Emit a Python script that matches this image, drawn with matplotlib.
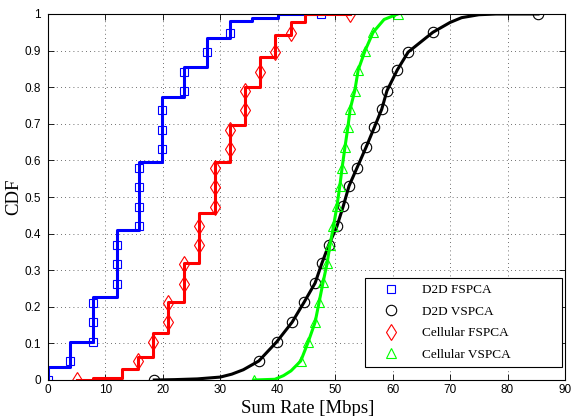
import matplotlib
matplotlib.use("Agg")
import matplotlib.pyplot as plt
from matplotlib.lines import Line2D

# D2D FSPCA (step CDF)
d2d_fs_x = [0, 0, 3.8, 7.8, 12.0, 15.8, 19.9, 23.7, 27.7, 31.7, 35.5, 40.0, 47.5]
d2d_fs_y = [0, 0.036, 0.104, 0.227, 0.41, 0.596, 0.773, 0.855, 0.934, 0.98, 0.99, 1.0, 1.0]
d2d_fs_mx = [0, 3.8, 7.8, 7.8, 7.8, 12.0, 12.0, 12.0, 15.8, 15.8, 15.8, 15.8,
             19.9, 19.9, 19.9, 23.7, 23.7, 27.7, 31.7, 47.5]
d2d_fs_my = [0, 0.053, 0.105, 0.158, 0.21, 0.263, 0.316, 0.368, 0.42, 0.474, 0.526, 0.579,
             0.632, 0.684, 0.737, 0.789, 0.842, 0.895, 0.947, 1.0]

# D2D VSPCA
d2d_vs_x = [18.5, 22, 26, 30, 32, 34, 36.7, 39.8, 42.5, 44.6, 46.5, 47.7, 48.9, 50.3, 51.4,
            52.4, 53.8, 55.4, 56.8, 58.1, 59.0, 60.8, 62.7, 67.0, 70, 72, 75, 78, 85.3]
d2d_vs_y = [0, 0.001, 0.003, 0.008, 0.016, 0.028, 0.052, 0.104, 0.158, 0.213, 0.265, 0.32, 0.37,
            0.42, 0.475, 0.53, 0.58, 0.637, 0.69, 0.74, 0.79, 0.847, 0.896, 0.95, 0.977, 0.99,
            0.998, 1.0, 1.0]
d2d_vs_mx = [18.5, 36.7, 39.8, 42.5, 44.6, 46.5, 47.7, 48.9, 50.3, 51.4, 52.4, 53.8, 55.4,
             56.8, 58.1, 59.0, 60.8, 62.7, 67.0, 85.3]
d2d_vs_my = [0, 0.052, 0.104, 0.158, 0.213, 0.265, 0.32, 0.37, 0.42, 0.475, 0.53, 0.58, 0.637,
             0.69, 0.74, 0.79, 0.847, 0.896, 0.95, 1.0]

# Cellular FSPCA (step CDF)
cel_fs_x = [5.0, 7.8, 12.9, 15.7, 18.3, 20.9, 23.7, 26.3, 29.1, 31.7, 34.3, 36.9, 39.5, 42.3, 44.7, 52.6]
cel_fs_y = [0, 0.005, 0.03, 0.063, 0.128, 0.213, 0.32, 0.456, 0.596, 0.697, 0.80, 0.883, 0.943,
            0.978, 1.0, 1.0]
cel_fs_mx = [5.0, 15.7, 18.3, 20.9, 20.9, 23.7, 23.7, 26.3, 26.3, 29.1, 29.1, 29.1, 31.7, 31.7,
             34.3, 34.3, 36.9, 39.5, 42.3, 52.6]
cel_fs_my = [0, 0.053, 0.105, 0.158, 0.21, 0.263, 0.316, 0.368, 0.42, 0.474, 0.526, 0.579,
             0.632, 0.684, 0.737, 0.789, 0.842, 0.895, 0.947, 1.0]

# Cellular VSPCA
cel_vs_x = [35.9, 39.5, 41.0, 42.3, 44.0, 45.3, 46.5, 47.2, 47.9, 48.6, 49.1, 49.7, 50.3, 50.8,
            51.2, 51.7, 52.2, 52.6, 53.4, 54.0, 55.2, 56.6, 58.5, 60.9]
cel_vs_y = [0, 0.002, 0.012, 0.025, 0.052, 0.104, 0.158, 0.213, 0.268, 0.32, 0.37, 0.42, 0.475,
            0.53, 0.58, 0.637, 0.69, 0.74, 0.79, 0.847, 0.9, 0.95, 0.985, 1.0]
cel_vs_mx = [35.9, 44.0, 45.3, 46.5, 47.2, 47.9, 48.6, 49.1, 49.7, 50.3, 50.8, 51.2, 51.7,
             52.2, 52.6, 53.4, 54.0, 55.2, 56.6, 60.9]
cel_vs_my = [0, 0.052, 0.104, 0.158, 0.213, 0.268, 0.32, 0.37, 0.42, 0.475, 0.53, 0.58, 0.637,
             0.69, 0.74, 0.79, 0.847, 0.9, 0.95, 1.0]

labels = ["D2D FSPCA", "D2D VSPCA", "Cellular FSPCA", "Cellular VSPCA"]

fig = plt.figure(figsize=(5.73, 4.16), dpi=100)
ax = fig.add_axes([48 / 573, 36 / 416, 517 / 573, 366 / 416])

lw = 2.2
green = "#00ff00"
sq = dict(marker="s", color="blue", mfc="none", ms=5.5, mew=0.8)
ci = dict(marker="o", color="black", mfc="none", ms=7.5, mew=0.8)
di = dict(marker="d", color="red", mfc="none", ms=8.5, mew=0.8)
tr = dict(marker="^", color=green, mfc="none", ms=7.5, mew=0.8)

ax.step(d2d_fs_x, d2d_fs_y, where="post", color="blue", lw=lw)
ax.plot(d2d_fs_mx, d2d_fs_my, ls="none", **sq)
ax.plot(d2d_vs_x, d2d_vs_y, "-", color="black", lw=lw)
ax.plot(d2d_vs_mx, d2d_vs_my, ls="none", **ci)
ax.step(cel_fs_x, cel_fs_y, where="post", color="red", lw=lw)
ax.plot(cel_fs_mx, cel_fs_my, ls="none", **di)
ax.plot(cel_vs_x, cel_vs_y, "-", color=green, lw=lw)
ax.plot(cel_vs_mx, cel_vs_my, ls="none", **tr)

ax.set_xlim(0, 90)
ax.set_ylim(0, 1)
ax.set_xticks(range(0, 91, 10))
ax.set_yticks([i / 10 for i in range(11)])
ax.set_yticklabels(["0", "0.1", "0.2", "0.3", "0.4", "0.5", "0.6", "0.7", "0.8", "0.9", "1"])
ax.tick_params(direction="in", top=True, right=True, length=4, width=0.6, labelsize=8.5)
ax.tick_params(axis="x", pad=3)
ax.tick_params(axis="y", pad=5)
for lab in ax.get_xticklabels() + ax.get_yticklabels():
    lab.set_family("Liberation Sans")
ax.grid(True, linestyle=(0, (1, 4)), color="0.25", linewidth=0.6)
for s in ax.spines.values():
    s.set_linewidth(0.8)

ax.set_xlabel("Sum Rate [Mbps]", family="Liberation Serif", fontsize=13.5)
ax.xaxis.set_label_coords(0.503, -0.09, transform=ax.transAxes)
ax.xaxis.label.set_va("baseline")
ax.set_ylabel("CDF", family="Liberation Serif", fontsize=13.5, labelpad=2)

handles = [Line2D([], [], ls="none", **sq), Line2D([], [], ls="none", **ci),
           Line2D([], [], ls="none", **di), Line2D([], [], ls="none", **tr)]
leg = ax.legend(handles, labels, loc="lower left", mode="expand",
                bbox_to_anchor=(0.613, 0.036, 0.381, 0.24),
                prop={"family": "Liberation Serif", "size": 9.5}, fancybox=False,
                edgecolor="black", framealpha=1, borderpad=0.45, labelspacing=0.7,
                handlelength=3.0, handletextpad=0.9, borderaxespad=0)
leg.get_frame().set_linewidth(0.8)

fig.savefig("out.png", dpi=100)
